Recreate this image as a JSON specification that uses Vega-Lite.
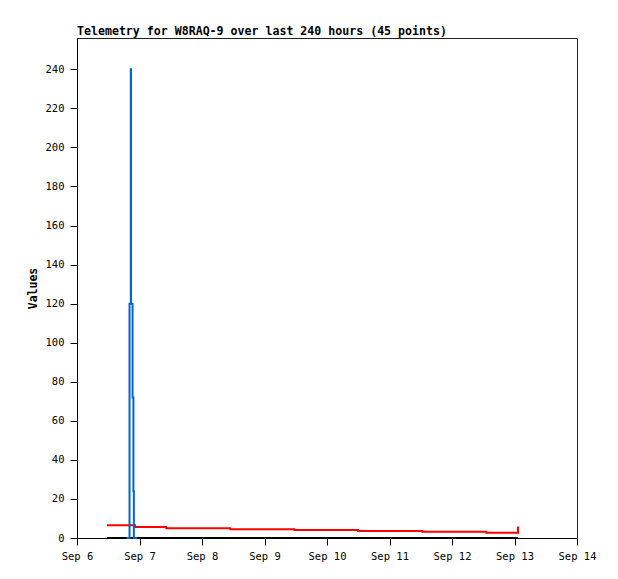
{
  "$schema": "https://vega.github.io/schema/vega-lite/v6.json",
  "autosize": {"type": "none"},
  "padding": {"left": 77, "top": 38, "right": 41, "bottom": 41},
  "width": 500,
  "height": 500,
  "background": "white",
  "title": {
    "text": "Telemetry for W8RAQ-9 over last 240 hours (45 points)",
    "anchor": "start",
    "frame": "group",
    "font": "DejaVu Sans Mono",
    "fontSize": 11.6,
    "fontWeight": "bold",
    "color": "black",
    "offset": 0
  },
  "config": {
    "view": {"stroke": "#222", "strokeWidth": 1},
    "axis": {
      "labelFont": "DejaVu Sans Mono",
      "labelFontSize": 10.5,
      "labelColor": "black",
      "tickColor": "black",
      "domainColor": "black",
      "tickSize": 7,
      "grid": false,
      "titleFont": "DejaVu Sans Mono",
      "titleFontSize": 11.5,
      "titleFontWeight": "bold",
      "titleColor": "black"
    }
  },
  "datasets": {
    "red": [
      {"t": "2023-09-06T11:31:00Z", "v": 6.5},
      {"t": "2023-09-06T22:16:00Z", "v": 5.6},
      {"t": "2023-09-07T10:17:00Z", "v": 5.0},
      {"t": "2023-09-08T10:52:00Z", "v": 4.5},
      {"t": "2023-09-09T11:27:00Z", "v": 4.1},
      {"t": "2023-09-10T12:00:00Z", "v": 3.6},
      {"t": "2023-09-11T12:36:00Z", "v": 3.2},
      {"t": "2023-09-12T13:10:00Z", "v": 2.7},
      {"t": "2023-09-13T01:21:00Z", "v": 5.9}
    ],
    "black": [
      {"t": "2023-09-06T11:31:00Z", "v": 0},
      {"t": "2023-09-13T01:21:00Z", "v": 0}
    ],
    "blue": [
      {"t": "2023-09-06T19:00:00Z", "v": 0},
      {"t": "2023-09-06T20:10:00Z", "v": 120},
      {"t": "2023-09-06T20:40:00Z", "v": 240},
      {"t": "2023-09-06T20:45:00Z", "v": 120},
      {"t": "2023-09-06T21:20:00Z", "v": 72},
      {"t": "2023-09-06T21:40:00Z", "v": 24},
      {"t": "2023-09-06T21:50:00Z", "v": 0},
      {"t": "2023-09-06T23:00:00Z", "v": 0}
    ]
  },
  "encoding": {
    "x": {
      "field": "t",
      "type": "temporal",
      "scale": {
        "type": "utc",
        "domain": [
          {"year": 2023, "month": 9, "date": 6, "utc": true},
          {"year": 2023, "month": 9, "date": 14, "utc": true}
        ],
        "nice": false
      },
      "axis": {
        "title": null,
        "format": "%b %-d",
        "tickCount": {"interval": "day", "step": 1},
        "labelPadding": 6,
        "labelFlush": false,
        "labelOverlap": false
      }
    },
    "y": {
      "field": "v",
      "type": "quantitative",
      "scale": {"domain": [0, 256], "nice": false, "zero": true},
      "axis": {
        "title": "Values",
        "values": [0, 20, 40, 60, 80, 100, 120, 140, 160, 180, 200, 220, 240],
        "labelPadding": 6,
        "titlePadding": 7
      }
    }
  },
  "layer": [
    {
      "data": {"name": "red"},
      "mark": {"type": "line", "interpolate": "step-after", "color": "#ff0000", "strokeWidth": 2}
    },
    {
      "data": {"name": "black"},
      "mark": {"type": "line", "color": "#000000", "strokeWidth": 2}
    },
    {
      "data": {"name": "blue"},
      "mark": {"type": "line", "interpolate": "step-after", "color": "#0066cc", "strokeWidth": 2}
    }
  ]
}
